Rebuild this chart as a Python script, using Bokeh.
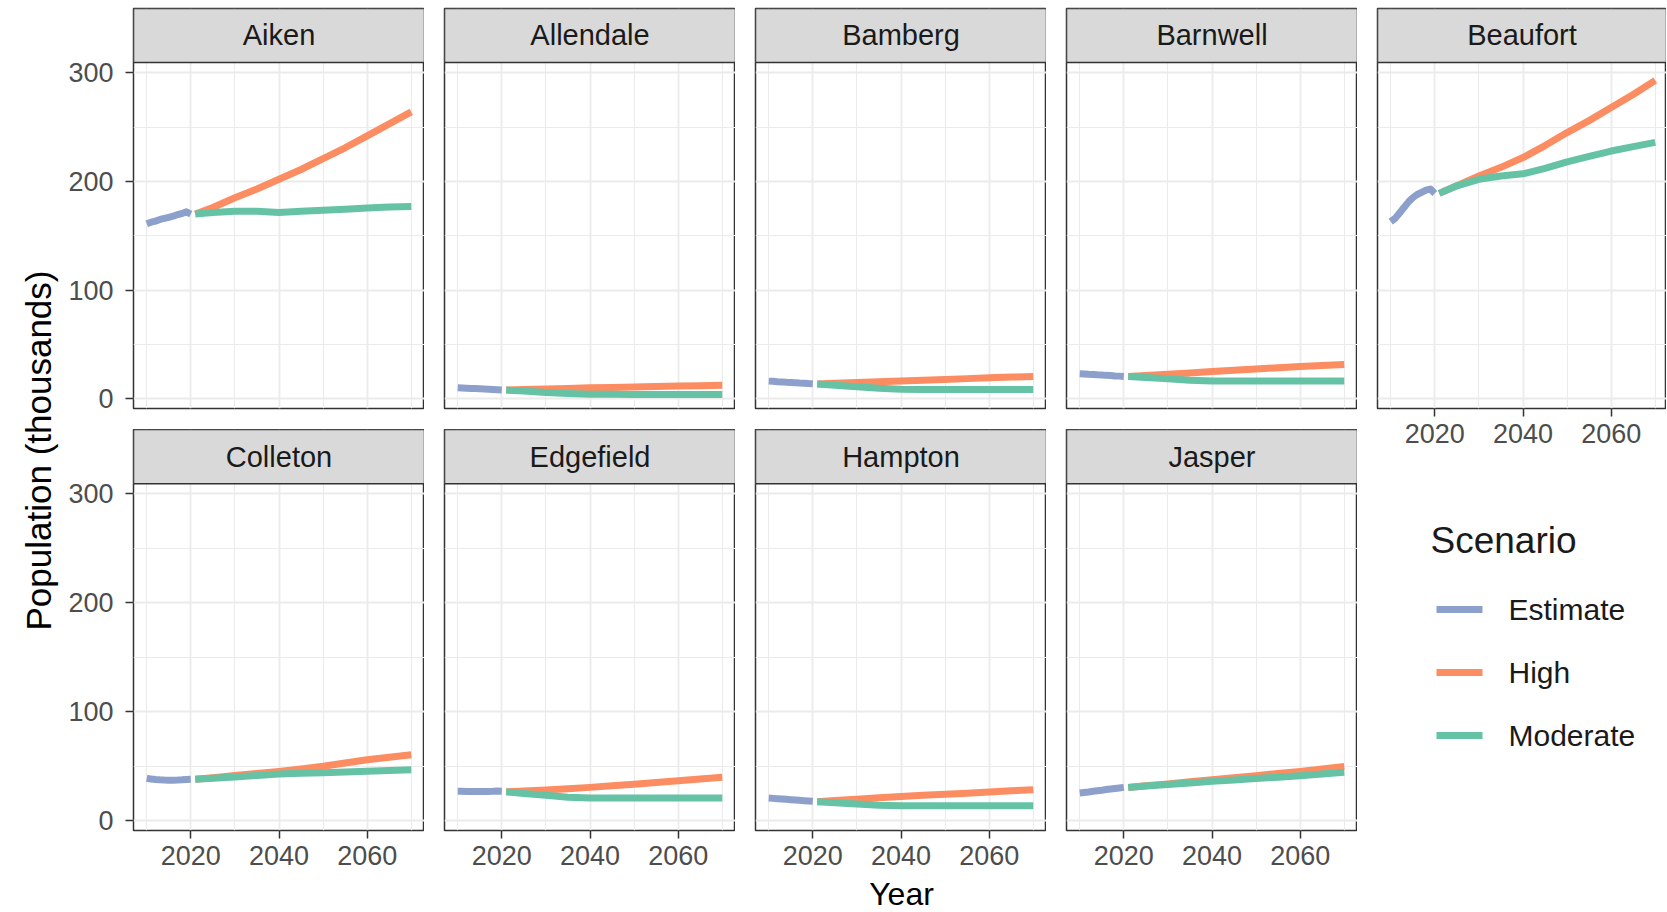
import math
from bokeh.plotting import figure
from bokeh.layouts import row, column
from bokeh.models import Range1d, FixedTicker
from bokeh.core.properties import value
from bokeh.embed import file_html
from bokeh.resources import INLINE

# ---------------- data (population, thousands) ----------------
counties = ["Aiken", "Allendale", "Bamberg", "Barnwell", "Beaufort",
            "Colleton", "Edgefield", "Hampton", "Jasper"]
scenarios = ["Estimate", "High", "Moderate"]
est_years = [2010, 2011, 2012, 2013, 2014, 2015, 2016, 2017, 2018, 2019, 2020]
proj_years = [2021, 2025, 2030, 2035, 2040, 2045, 2050, 2055, 2060, 2065, 2070]

aiken_est = [161, 162.5, 163.5, 165, 166, 167, 168, 169.5, 170.5, 172, 170]
aiken_high = [170, 176, 185, 193, 202, 211, 221, 231, 242, 253, 264]
aiken_mod = [170, 171.5, 172.5, 172.5, 171.5, 172.5, 173.5, 174.5, 175.5, 176.5, 177]

allendale_est = [10.1, 9.9, 9.7, 9.5, 9.3, 9.1, 8.9, 8.7, 8.5, 8.3, 8.1]
allendale_high = [8.0, 8.5, 9.0, 9.5, 10.0, 10.4, 10.8, 11.2, 11.6, 12.0, 12.3]
allendale_mod = [8.0, 7.0, 5.8, 4.8, 4.2, 4.1, 4.0, 4.0, 4.0, 4.0, 4.0]

bamberg_est = [16.2, 16.0, 15.7, 15.5, 15.2, 15.0, 14.8, 14.5, 14.3, 14.0, 13.8]
bamberg_high = [13.6, 14.2, 15.0, 15.7, 16.4, 17.1, 17.8, 18.5, 19.2, 19.9, 20.5]
bamberg_mod = [13.6, 12.5, 11.0, 9.6, 8.7, 8.5, 8.4, 8.4, 8.4, 8.4, 8.4]

barnwell_est = [23.0, 22.8, 22.5, 22.3, 22.0, 21.8, 21.5, 21.3, 21.0, 20.8, 20.5]
barnwell_high = [20.5, 21.3, 22.5, 23.7, 25.0, 26.2, 27.4, 28.5, 29.6, 30.6, 31.6]
barnwell_mod = [20.5, 19.5, 18.3, 17.0, 16.3, 16.2, 16.2, 16.2, 16.2, 16.2, 16.2]

beaufort_est = [163, 166, 171, 176, 181, 185, 188, 190, 192, 193, 189]
beaufort_high = [189, 196, 205, 213, 222, 233, 245, 256, 268, 280, 293]
beaufort_mod = [189, 196, 202, 205, 207, 212, 218, 223, 228, 232, 236]

colleton_est = [39, 38.2, 37.8, 37.5, 37.3, 37.2, 37.2, 37.3, 37.5, 37.8, 38]
colleton_high = [38, 39.5, 41.6, 43.4, 45.3, 47.5, 50, 53, 56, 58.3, 60.6]
colleton_mod = [38, 39, 40.2, 41.5, 42.8, 43.5, 44, 44.7, 45.3, 46, 46.8]

edgefield_est = [27, 27, 26.8, 26.8, 26.7, 26.7, 26.8, 26.9, 27, 27.2, 27]
edgefield_high = [26.5, 27.2, 28.2, 29.4, 30.6, 32.0, 33.5, 35.1, 36.7, 38.2, 39.8]
edgefield_mod = [26.5, 25.0, 23.3, 21.6, 20.8, 20.8, 20.8, 20.8, 20.8, 20.8, 20.8]

hampton_est = [20.8, 20.5, 20.2, 19.9, 19.6, 19.3, 19.0, 18.7, 18.4, 18.1, 17.8]
hampton_high = [17.5, 18.5, 19.7, 21.0, 22.3, 23.3, 24.3, 25.3, 26.3, 27.4, 28.5]
hampton_mod = [17.5, 16.5, 15.3, 14.2, 13.8, 13.8, 13.8, 13.8, 13.8, 13.8, 13.8]

jasper_est = [25.4, 25.9, 26.4, 27.0, 27.5, 28.0, 28.6, 29.1, 29.6, 30.1, 30.6]
jasper_high = [30.5, 32.0, 33.8, 35.7, 37.6, 39.5, 41.4, 43.4, 45.3, 47.6, 49.9]
jasper_mod = [30.5, 31.8, 33.3, 34.7, 36.1, 37.4, 38.7, 40.0, 41.3, 42.8, 44.4]

x_major = [2020, 2040, 2060]
x_minor = [2010, 2030, 2050, 2070]
y_major = [0, 100, 200, 300]
y_minor = [50, 150, 250]

series = {
    "Aiken": (aiken_est, aiken_high, aiken_mod),
    "Allendale": (allendale_est, allendale_high, allendale_mod),
    "Bamberg": (bamberg_est, bamberg_high, bamberg_mod),
    "Barnwell": (barnwell_est, barnwell_high, barnwell_mod),
    "Beaufort": (beaufort_est, beaufort_high, beaufort_mod),
    "Colleton": (colleton_est, colleton_high, colleton_mod),
    "Edgefield": (edgefield_est, edgefield_high, edgefield_mod),
    "Hampton": (hampton_est, hampton_high, hampton_mod),
    "Jasper": (jasper_est, jasper_high, jasper_mod),
}

# ---------------- style / layout constants ----------------
FONT = value("Liberation Sans")
COLORS = {"Estimate": "#8DA0CB", "High": "#FC8D62", "Moderate": "#66C2A5"}
X0, X1 = 2007, 2073
Y0, Y1 = -9.0, 359.2
STRIP_BOTTOM = 309.5
PANEL_W = 291
PX_PER_YEAR = PANEL_W / (X1 - X0)
TOP_PAD = 8
ROW1_BOTTOM = 21
XAXIS_BORDER = 45
LEFT_AXIS_BORDER = 73
YT_W = 60
TICK_FONT = "27px"
LEFT_H = TOP_PAD + 400 + ROW1_BOTTOM + 401 + XAXIS_BORDER   # 875
PAGE_W, PAGE_H = 1666, 912


def style_axis(ax, major, minor, standoff):
    ax.ticker = FixedTicker(ticks=major, minor_ticks=minor)
    ax.axis_line_color = None
    ax.major_tick_in = 0
    ax.major_tick_out = 8
    ax.minor_tick_in = 0
    ax.minor_tick_out = 0
    ax.major_tick_line_color = "#333333"
    ax.major_tick_line_width = 1.5
    ax.major_label_text_font = "Liberation Sans"
    ax.major_label_text_font_size = TICK_FONT
    ax.major_label_text_color = "#4D4D4D"
    ax.major_label_standoff = standoff


def bare_figure(w, h, xr, yr):
    f = figure(frame_width=w, frame_height=h, x_range=Range1d(*xr), y_range=Range1d(*yr),
               min_border=0, toolbar_location=None, output_backend="svg", title=None,
               x_axis_location=None, y_axis_location=None, outline_line_color=None)
    f.grid.visible = False
    f.background_fill_color = "white"
    f.border_fill_color = "white"
    return f


def make_panel(name, col, rw):
    is_left = col == 0
    has_x = rw == 1 or name == "Beaufort"
    fw = 289 if name == "Beaufort" else PANEL_W
    fh = 400 if rw == 0 else 401
    x_end = X0 + fw / PX_PER_YEAR
    p = figure(frame_width=fw, frame_height=fh,
               x_range=Range1d(X0, x_end), y_range=Range1d(Y0, Y1),
               output_backend="svg", toolbar_location=None, title=None,
               x_axis_location="below" if has_x else None,
               y_axis_location="left" if is_left else None,
               min_border_left=LEFT_AXIS_BORDER if is_left else 20, min_border_right=0,
               min_border_top=TOP_PAD if rw == 0 else 0,
               min_border_bottom=XAXIS_BORDER if has_x else ROW1_BOTTOM)
    p.background_fill_color = "white"
    p.border_fill_color = "white"
    p.outline_line_color = "#333333"
    p.outline_line_width = 1.5
    p.xgrid.ticker = FixedTicker(ticks=x_major, minor_ticks=x_minor)
    p.ygrid.ticker = FixedTicker(ticks=y_major, minor_ticks=y_minor)
    for g in (p.xgrid, p.ygrid):
        g.grid_line_color = "#EBEBEB"
        g.grid_line_width = 1.8
        g.minor_grid_line_color = "#EBEBEB"
        g.minor_grid_line_width = 1.1
    if has_x:
        style_axis(p.xaxis[0], x_major, x_minor, 7)
    if is_left:
        style_axis(p.yaxis[0], y_major, y_minor, 12)

    est, high, mod = series[name]
    p.line(est_years, est, line_color=COLORS["Estimate"], line_width=7, line_join="round")
    p.line(proj_years, high, line_color=COLORS["High"], line_width=7, line_join="round")
    p.line(proj_years, mod, line_color=COLORS["Moderate"], line_width=7, line_join="round")

    # facet strip
    p.quad(left=[X0], right=[x_end], bottom=[STRIP_BOTTOM], top=[Y1],
           fill_color="#D9D9D9", line_color="#333333", line_width=1.5)
    p.text(x=[(X0 + x_end) / 2], y=[(STRIP_BOTTOM + Y1) / 2], text=[name],
           text_align="center", text_baseline="middle", text_font=FONT,
           text_font_size="29px", text_color="#1A1A1A")
    return p


panels = {}
for i, name in enumerate(counties):
    rw, col = divmod(i, 5)
    panels[name] = make_panel(name, col, rw)

# ---------------- legend (right column, below Beaufort) ----------------
LF_X0 = 1357                                   # page x of legend figure
LF_SHIFT = -20                                 # measured offset correction
LF_TOP = TOP_PAD + 400 + XAXIS_BORDER          # page y of legend figure top
LF_W, LF_H = PAGE_W - LF_X0, LEFT_H - LF_TOP
lf = bare_figure(LF_W, LF_H, (0, LF_W), (0, LF_H))


def lx(page_x):
    return page_x - LF_X0 + LF_SHIFT


def ly(page_y):
    return LF_H - (page_y - LF_TOP)


key_y_page = [609, 672, 735]
lf.text(x=[lx(1430)], y=[ly(539.5)], text=["Scenario"], text_align="left",
        text_baseline="middle", text_font=FONT, text_font_size="37px",
        text_color="#1A1A1A")
for s, py in zip(scenarios, key_y_page):
    lf.segment(x0=[lx(1436)], x1=[lx(1482)], y0=[ly(py)], y1=[ly(py)],
               line_color=COLORS[s], line_width=7)
    lf.text(x=[lx(1508)], y=[ly(py)], text=[s], text_align="left",
            text_baseline="middle", text_font=FONT, text_font_size="30px",
            text_color="#1A1A1A")

# ---------------- axis titles ----------------
yt = bare_figure(YT_W, LEFT_H, (0, YT_W), (0, LEFT_H))
yt.text(x=[38], y=[LEFT_H - 450], text=["Population (thousands)"], angle=math.pi / 2,
        text_align="center", text_baseline="middle", text_font=FONT,
        text_font_size="35px", text_color="#000000")

XT_H = PAGE_H - LEFT_H
xt = bare_figure(PAGE_W, XT_H, (0, PAGE_W), (0, XT_H))
xt.text(x=[901], y=[XT_H - (893.5 - LEFT_H)], text=["Year"], text_align="center",
        text_baseline="middle", text_font=FONT, text_font_size="32px",
        text_color="#000000")

row1 = row(*[panels[n] for n in counties[0:4]])
row2 = row(*[panels[n] for n in counties[5:9]])
left_block = column(row1, row2)
right_block = column(panels["Beaufort"], lf)
top = row(yt, left_block, right_block)
layout = column(top, xt)

with open("out.html", "w") as f:
    f.write(file_html(layout, INLINE))
